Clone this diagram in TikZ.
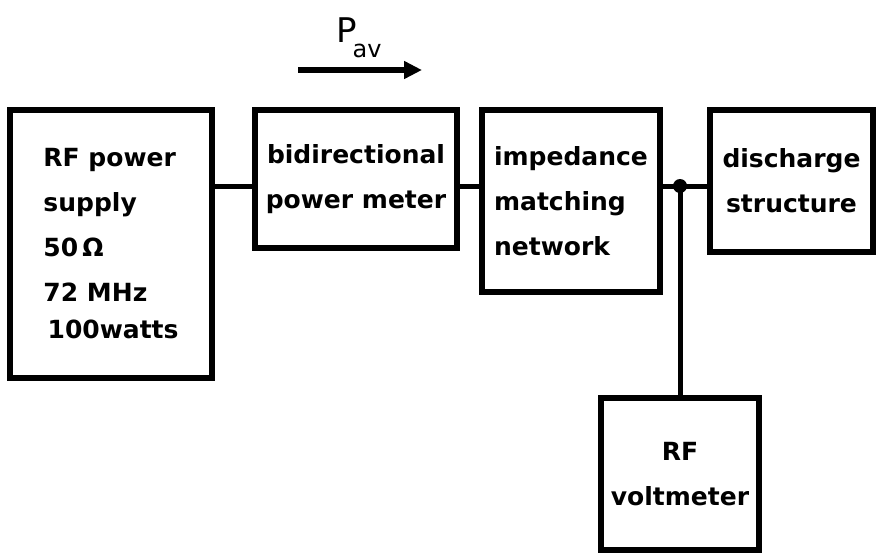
\documentclass[tikz,border=0pt]{standalone}
\usepackage{fontspec}
\setmainfont{DejaVu Sans}
\usetikzlibrary{arrows.meta}
\newcommand\lblfont{\fontsize{25}{45}\selectfont\bfseries}
\begin{document}
\begin{tikzpicture}[x=1pt,y=-1pt,
  blk/.style={draw, line width=5.5pt, rectangle, inner sep=0pt, font=\lblfont},
  wire/.style={line width=5pt},
  flow/.style={line width=6pt, -{Triangle[length=18pt,width=17pt]}}]
\useasboundingbox (0,0) rectangle (877,552);
\fill[white] (0,0) rectangle (877,552);

\node[blk, minimum width=202pt, minimum height=268pt, align=left] (b1) at (111,244)
  {RF power\\supply\\50\,Ω\\72 MHz\\[-8pt]\,100watts};
\node[blk, minimum width=202pt, minimum height=138pt, align=center] (b2) at (356,179)
  {bidirectional\\power meter};
\node[blk, minimum width=178pt, minimum height=182pt, align=left] (b3) at (571,201)
  {impedance\\matching\\network};
\node[blk, minimum width=163pt, minimum height=142pt, align=center] (b4) at (791.5,181)
  {discharge\\structure};
\node[blk, minimum width=158pt, minimum height=152pt, align=center] (b5) at (680,474)
  {RF\\voltmeter};

\coordinate (j) at (680,186);
\draw[wire] (b1.east |- j) -- (b2.west |- j);
\draw[wire] (b2.east |- j) -- (b3.west |- j);
\draw[wire] (b3.east |- j) -- (b4.west |- j);
\draw[wire] (j) -- (b5.north);
\fill (j) circle (7pt);

\coordinate (a0) at (298,70);
\coordinate (a1) at (422,70);
\draw[flow] (a0) -- (a1);
\node[anchor=base west, inner sep=0pt] (pav) at (336,42)
  {\fontsize{34}{34}\selectfont P\kern-4pt\raisebox{-15pt}{\fontsize{24}{24}\selectfont av}};
\end{tikzpicture}
\end{document}
